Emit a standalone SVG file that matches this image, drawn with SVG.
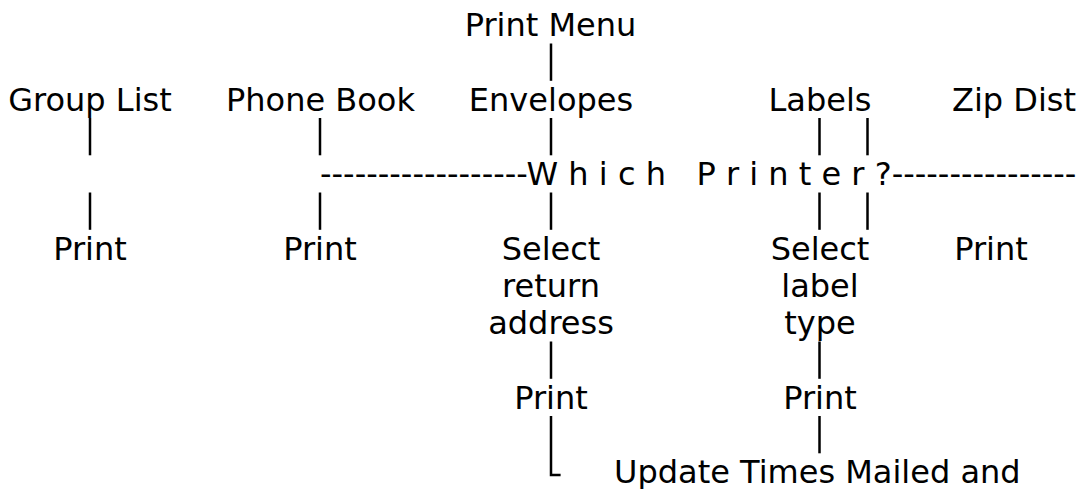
<svg xmlns="http://www.w3.org/2000/svg" width="1085" height="489" viewBox="0 0 1085 489">
  <style>
    text { font-family: "DejaVu Sans", "Noto Sans", sans-serif; font-size: 32px; fill: #000; }
    .c { text-anchor: middle; }
    .pre { white-space: pre; }
    .bar { stroke: #000; stroke-width: 2.5; fill: none; stroke-linecap: butt; }
  </style>
  <rect width="1085" height="489" fill="#fff"/>
  <g id="connectors">
    <line class="bar" x1="551" y1="43.5" x2="551" y2="80.8"/>
    <line class="bar" x1="90" y1="118" x2="90" y2="155.3"/>
    <line class="bar" x1="320" y1="118" x2="320" y2="155.3"/>
    <line class="bar" x1="551" y1="118" x2="551" y2="155.3"/>
    <line class="bar" x1="819.5" y1="118" x2="819.5" y2="155.3"/>
    <line class="bar" x1="867.5" y1="118" x2="867.5" y2="155.3"/>
    <line class="bar" x1="90" y1="192.5" x2="90" y2="229.8"/>
    <line class="bar" x1="320" y1="192.5" x2="320" y2="229.8"/>
    <line class="bar" x1="551" y1="192.5" x2="551" y2="229.8"/>
    <line class="bar" x1="819.5" y1="192.5" x2="819.5" y2="229.8"/>
    <line class="bar" x1="867.5" y1="192.5" x2="867.5" y2="229.8"/>
    <line class="bar" x1="551" y1="341.5" x2="551" y2="378.8"/>
    <line class="bar" x1="819.5" y1="341.5" x2="819.5" y2="378.8"/>
    <path class="bar" d="M551,416 V475 H560.6"/>
    <line class="bar" x1="819.5" y1="416" x2="819.5" y2="453.3"/>
  </g>
  <g id="print-menu"><text class="c" x="550.5" y="36">Print Menu</text></g>
  <g id="group-list"><text class="c" x="90" y="110.5">Group List</text></g>
  <g id="phone-book"><text class="c" x="320.5" y="110.5">Phone Book</text></g>
  <g id="envelopes"><text class="c" x="551" y="110.5">Envelopes</text></g>
  <g id="labels"><text class="c" x="820" y="110.5">Labels</text></g>
  <g id="zip-dist"><text class="c" x="1014" y="110.5">Zip Dist</text></g>
  <g id="which-printer"><text class="pre" x="320" y="185" xml:space="preserve">------------------W h i c h   P r i n t e r ?----------------</text></g>
  <g id="print-group"><text class="c" x="90" y="259.5">Print</text></g>
  <g id="print-phone"><text class="c" x="320" y="259.5">Print</text></g>
  <g id="select-return"><text class="c" x="551" y="259.5">Select</text><text class="c" x="551" y="296.75">return</text><text class="c" x="551" y="334">address</text></g>
  <g id="select-label"><text class="c" x="820" y="259.5">Select</text><text class="c" x="820" y="296.75">label</text><text class="c" x="820" y="334">type</text></g>
  <g id="print-zip"><text class="c" x="991" y="259.5">Print</text></g>
  <g id="print-envelopes"><text class="c" x="551" y="408.5">Print</text></g>
  <g id="print-labels"><text class="c" x="820" y="408.5">Print</text></g>
  <g id="update-times"><text x="614" y="483">Update Times Mailed and</text></g>
</svg>
